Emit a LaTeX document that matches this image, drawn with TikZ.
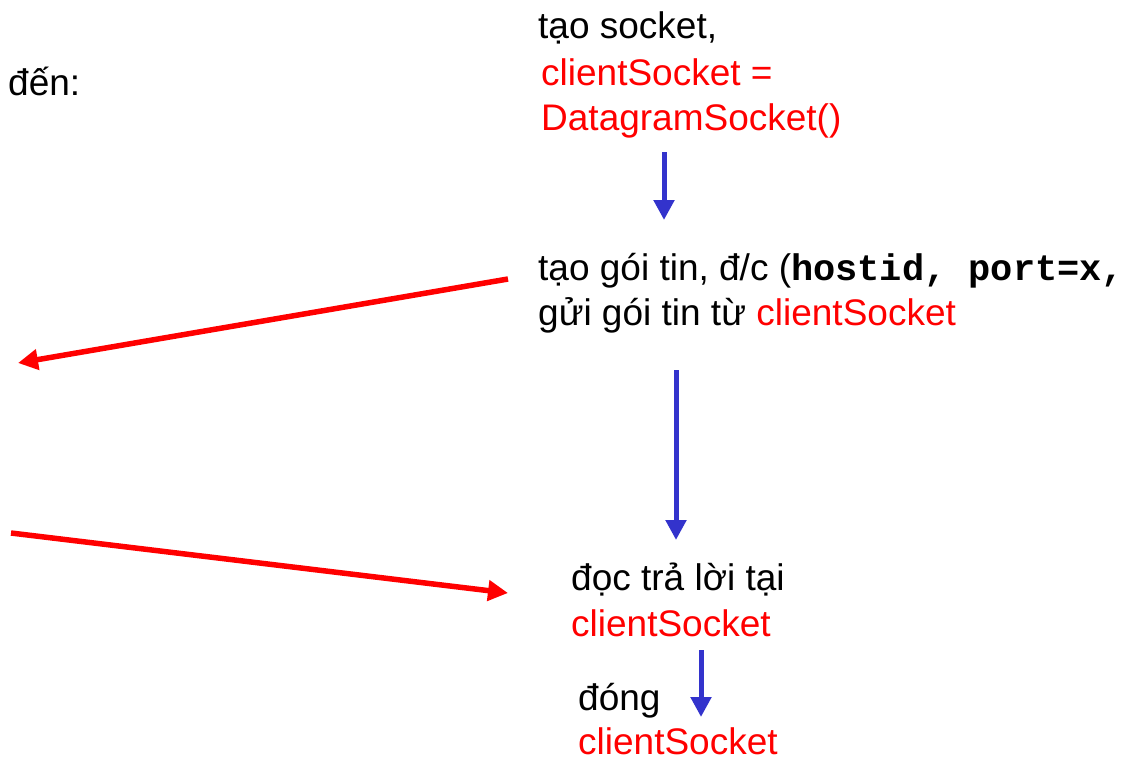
\documentclass[tikz,border=0pt]{standalone}
\usepackage{fontspec}
\setmainfont{Liberation Sans}
\setmonofont{Liberation Mono}
\usetikzlibrary{arrows.meta}
\definecolor{flowblue}{RGB}{51,51,204}

\begin{document}
\begin{tikzpicture}[
		x=1pt, y=-1pt,
		>={Triangle[length=20pt,width=20pt]},
		txt/.style={anchor=base west, inner sep=0pt, font=\fontsize{37}{46}\selectfont},
		code/.style={txt, text=red},
		flow/.style={->, flowblue, line width=5pt},
		msg/.style={->, red, line width=5.5pt},
	]
	\useasboundingbox (0,0) rectangle (1129,760);
	% client side steps
	\node[txt] (den) at (8,95) {đến:};
	\node[txt] (mk) at (538,39) {tạo socket,};
	\node[code] (cs1) at (541,85) {clientSocket =};
	\node[code] (dg) at (541,130) {DatagramSocket()};
	\node[txt] (pk) at (538,280) {tạo gói tin, đ/c (\texttt{\bfseries hostid, port=x,}};
	\node[txt] (snd) at (538,325) {gửi gói tin từ \textcolor{red}{clientSocket}};
	\node[txt] (rd) at (571,590) {đọc trả lời tại};
	\node[code] (cs2) at (571,636) {clientSocket};
	\node[txt] (cl) at (578,710) {đóng};
	\node[code] (cs3) at (578,754) {clientSocket};
	% arrow ends
	\coordinate (a1) at (664,152);
	\coordinate (a2) at (664,220);
	\coordinate (b1) at (676,370);
	\coordinate (b2) at (676,540);
	\coordinate (c1) at (701,650);
	\coordinate (c2) at (701,717);
	\coordinate (out1) at (508,279);
	\coordinate (out2) at (18,363);
	\coordinate (in1) at (11,533);
	\coordinate (in2) at (508,593);
	\draw[flow] (a1) -- (a2);
	\draw[flow] (b1) -- (b2);
	\draw[flow] (c1) -- (c2);
	\draw[msg] (out1) -- (out2);
	\draw[msg] (in1) -- (in2);
\end{tikzpicture}
\end{document}
